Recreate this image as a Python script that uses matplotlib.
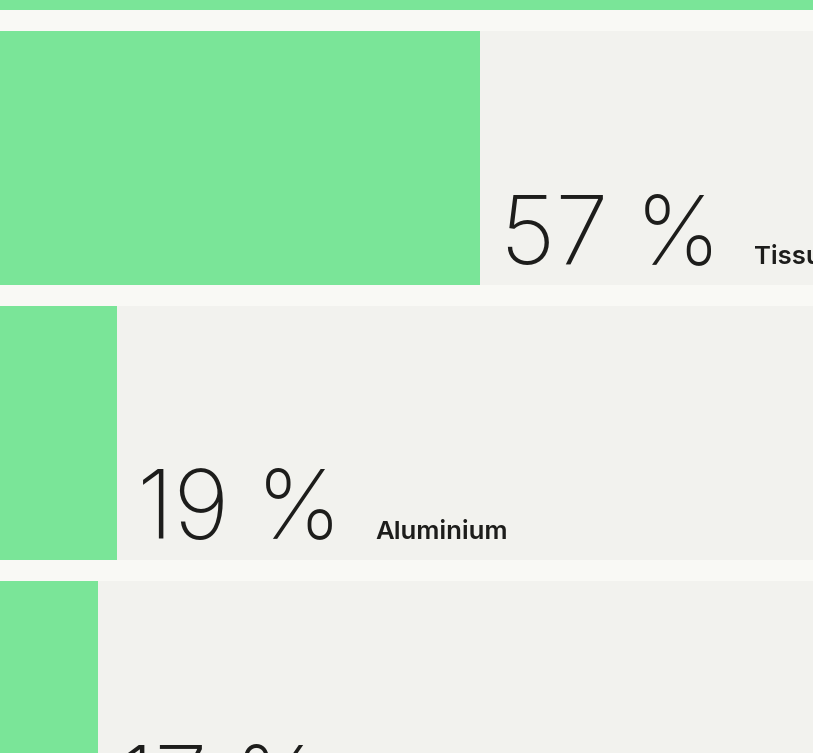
import numpy as np
import matplotlib.pyplot as plt
import matplotlib.transforms as mtransforms

# Data (share in %), top row is only partly visible in the crop
categories = ['', 'Tissu', 'Aluminium', '']
values = [100, 57, 19, 17]

# Colours
GREEN = '#7ae598'
TRACK = '#f2f2ee'
GAP = '#f9f9f5'
INK = '#1d1d1b'

fig = plt.figure(figsize=(8.13, 7.53), dpi=100)
fig.patch.set_facecolor(GAP)
ax = fig.add_axes([0, 0, 1, 1])
ax.set_facecolor(GAP)

y = np.arange(len(values))
bar_h = 254 / 275

# full width track behind each bar, then the value bar
ax.barh(y, [100] * len(values), height=bar_h, color=TRACK, zorder=1)
ax.barh(y, values, height=bar_h, color=GREEN, zorder=2)

ax.set_xlim(6.74, 91.87)
ax.set_ylim(3.164, 0.4255)
ax.axis('off')

fig.canvas.draw()
renderer = fig.canvas.get_renderer()

for i, (cat, v) in enumerate(zip(categories, values)):
    if i == 0:
        continue
    bottom = i + bar_h / 2
    num = ax.annotate(f'{v} %', xy=(v, bottom), xytext=(14.5, 15.1),
                      textcoords='offset points', ha='left', va='baseline',
                      fontsize=69, family='Inter', weight='light', color=INK,
                      zorder=3, annotation_clip=False)
    if cat:
        bb = num.get_window_extent(renderer)
        trans = mtransforms.blended_transform_factory(mtransforms.IdentityTransform(), ax.transData)
        ax.annotate(cat, xy=(bb.x1, bottom), xycoords=trans, xytext=(24, 15.1),
                    textcoords='offset points', ha='left', va='baseline',
                    fontsize=18.5, family='Inter', weight='semibold', color=INK,
                    zorder=3, annotation_clip=False)

fig.savefig('out.png', dpi=100, facecolor=GAP)
